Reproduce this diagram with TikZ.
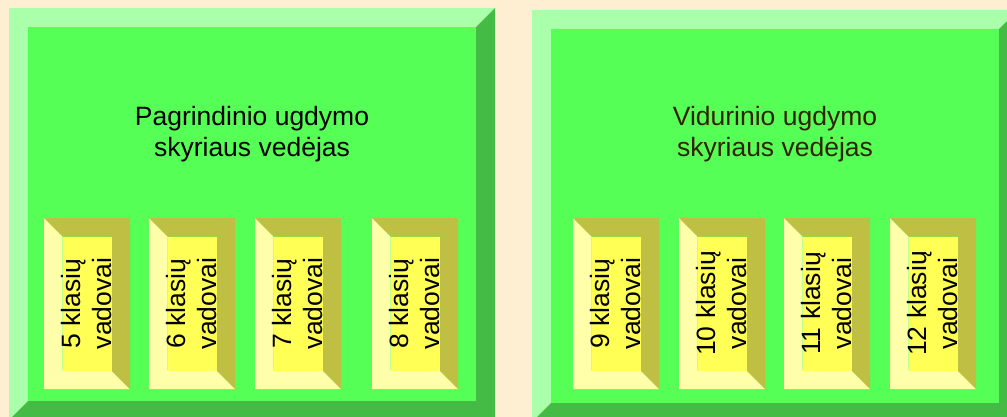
\documentclass[tikz,border=0pt]{standalone}
\usepackage{fontspec}
\setmainfont{Liberation Sans}
\definecolor{pagecream}{RGB}{255,239,210}
\definecolor{paneface}{RGB}{85,255,85}
\definecolor{panelight}{RGB}{170,255,170}
\definecolor{panedark}{RGB}{68,187,68}
\definecolor{tabface}{RGB}{255,255,85}
\definecolor{tablight}{RGB}{255,255,170}
\definecolor{tabdark}{RGB}{191,191,68}
\definecolor{headbrown}{RGB}{51,34,0}
\tikzset{
    headtext/.style={font=\fontsize{26.5}{31}\selectfont, align=center, inner sep=0pt},
    tabtext/.style={font=\fontsize{26.5}{31}\selectfont, align=center, rotate=90, inner sep=0pt}
}

\begin{document}
\begin{tikzpicture}[x=1pt,y=-1pt]
    % Page
    \fill[pagecream] (0,0) rectangle (1007,417);
    \useasboundingbox (0,0) rectangle (1007,417);
    \clip (0,0) rectangle (1007,417);

    % Department panels
    \foreach \xa/\ya/\xb/\yb in {9/8/495/420, 532/10/1018/422} {
        \fill[panelight] (\xa,\ya) -- (\xb,\ya) -- (\xb-19,\ya+19) -- (\xa+19,\ya+19)
            -- (\xa+19,\yb-19) -- (\xa,\yb) -- cycle;
        \fill[panedark] (\xb,\ya) -- (\xb,\yb) -- (\xa,\yb) -- (\xa+19,\yb-19)
            -- (\xb-19,\yb-19) -- (\xb-19,\ya+19) -- cycle;
        \fill[paneface] (\xa+19,\ya+19) rectangle (\xb-19,\yb-19);
    }

    % Heads
    \node[headtext] (lowerhead) at (252,134.5) {Pagrindinio ugdymo\\skyriaus vedėjas};
    \node[headtext, text=headbrown] (upperhead) at (775,134.5) {Vidurinio ugdymo\\skyriaus vedėjas};

    % Class tutors
    \foreach \xa [count=\i from 5] in {44,149,255,372,573,679,784,890} {
        \fill[tablight] (\xa,218) -- (\xa+18.5,236.5) -- (\xa+18.5,370.5) -- (\xa+67.5,370.5)
            -- (\xa+86,389) -- (\xa,389) -- cycle;
        \fill[tabdark] (\xa,218) -- (\xa+86,218) -- (\xa+86,389) -- (\xa+67.5,370.5)
            -- (\xa+67.5,236.5) -- (\xa+18.5,236.5) -- cycle;
        \fill[tabface] (\xa+18.5,236.5) rectangle (\xa+67.5,370.5);
        \node[tabtext] (tab\i) at (\xa+43,303.5) {\i{} klasių\\vadovai};
    }
\end{tikzpicture}
\end{document}
